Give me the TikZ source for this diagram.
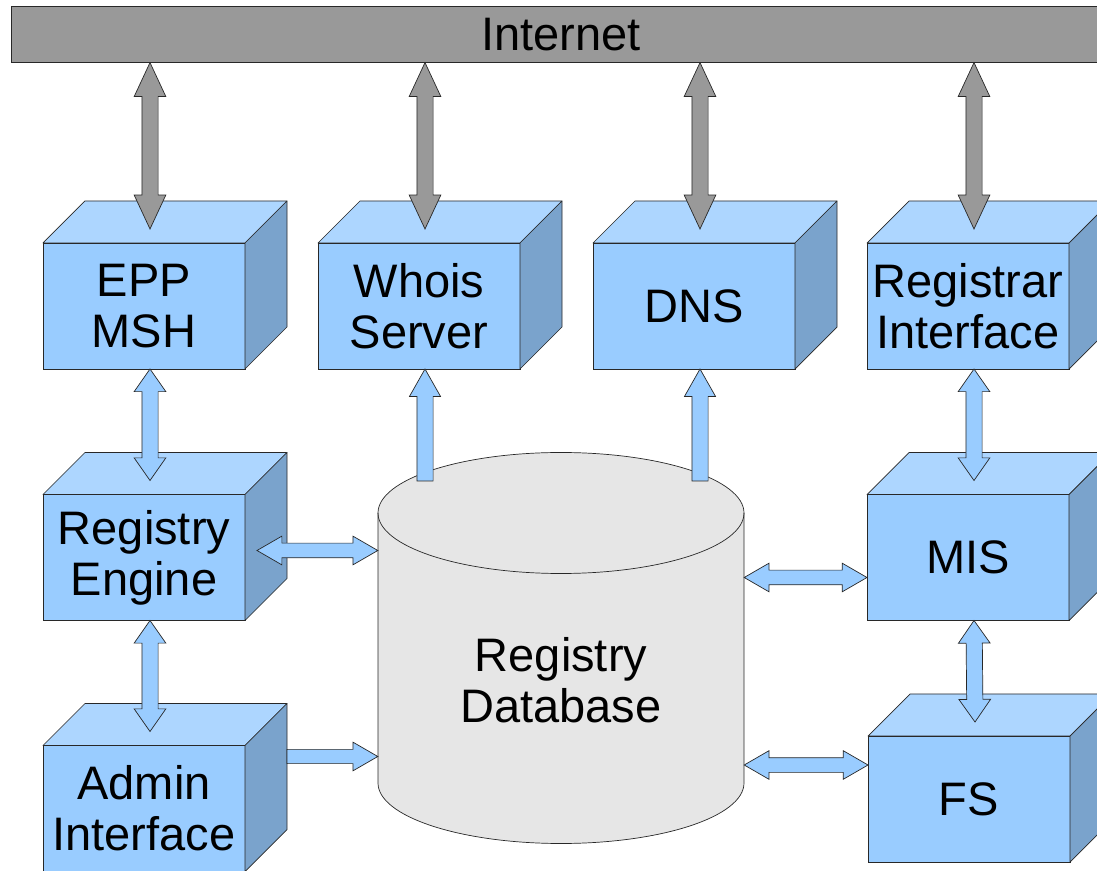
\documentclass[tikz,border=0pt]{standalone}
\usepackage{fontspec}
\setmainfont{Liberation Sans}
\usetikzlibrary{calc, shapes.arrows}

\definecolor{boxfront}{RGB}{153,204,255}
\definecolor{boxtop}{RGB}{173,214,255}
\definecolor{boxside}{RGB}{122,163,204}
\definecolor{netgray}{RGB}{153,153,153}
\definecolor{dbgray}{RGB}{230,230,230}
\definecolor{edge}{RGB}{40,40,40}

\tikzset{
  cube/.style={draw=edge, fill=boxfront, line width=0.7pt, minimum width=202pt, minimum height=126pt,
    inner sep=0pt, outer sep=0pt, align=center, font=\fontsize{47}{51}\selectfont},
  topface/.style={draw=edge, fill=boxtop, line width=0.7pt, line join=round},
  sideface/.style={draw=edge, fill=boxside, line width=0.7pt, line join=round},
  pipe/.style={draw=edge, line width=0.7pt, inner sep=0pt, outer sep=0pt, minimum width=0pt},
  netlink/.style={pipe, double arrow, fill=netgray, inner ysep=7.75pt,
    double arrow head extend=7.75pt, double arrow tip angle=50},
  duplex/.style={pipe, double arrow, fill=boxfront, inner ysep=7.75pt,
    double arrow head extend=7.75pt, double arrow tip angle=70},
  sidelink/.style={pipe, double arrow, fill=boxfront, inner ysep=7pt,
    double arrow head extend=7pt, double arrow tip angle=60},
  feed/.style={pipe, single arrow, fill=boxfront, anchor=tail, inner ysep=7.75pt,
    single arrow head extend=7.5pt, single arrow tip angle=59},
  sidefeed/.style={pipe, single arrow, fill=boxfront, anchor=tail, inner ysep=6.75pt,
    single arrow head extend=7.25pt, single arrow tip angle=60},
}

% 粗箭头: 样式, 起点, 终点
\newcommand{\duplexlink}[3]{%
  \path let \p1 = (#2), \p2 = (#3), \n1 = {veclen(\x2-\x1, \y2-\y1)}, \n2 = {atan2(\y2-\y1, \x2-\x1)} in
    node[#1, minimum height=\n1, rotate=\n2] at ({(\x1+\x2)/2}, {(\y1+\y2)/2}) {};}
\newcommand{\feedlink}[3]{%
  \path let \p1 = (#2), \p2 = (#3), \n1 = {veclen(\x2-\x1, \y2-\y1)}, \n2 = {atan2(\y2-\y1, \x2-\x1)} in
    node[#1, minimum height=\n1, rotate=\n2] at (\p1) {};}

\begin{document}
\begin{tikzpicture}[x=1pt, y=1pt]
        \useasboundingbox (0,0) rectangle (1097,870);
        \clip (0,0) rectangle (1097,870);

        % 互联网
        \node[draw=edge, fill=netgray, line width=0.7pt, minimum width=1100pt, minimum height=55.5pt,
          inner sep=0pt, font=\fontsize{47}{51}\selectfont] (inet) at (561,835.5) {Internet};

        % 数据库圆柱
        \filldraw[draw=edge, fill=dbgray, line width=0.7pt] (378,357) -- (378,87)
          arc[start angle=180, end angle=360, x radius=183, y radius=60.5] -- (744,357)
          arc[start angle=0, end angle=180, x radius=183, y radius=60.5] -- cycle;
        \draw[edge, line width=0.7pt] (378,357) arc[start angle=180, end angle=360, x radius=183, y radius=60.5];
        \node[align=center, minimum width=366pt, inner sep=0pt, font=\fontsize{47}{51}\selectfont]
          (db) at (561,189.5) {Registry\\Database};

        % 各模块 (正面)
        \node[cube] (epp) at (144,564) {EPP\\MSH};
        \node[cube] (whois) at (419,564) {Whois\\Server};
        \node[cube] (dns) at (694,564) {DNS};
        \node[cube] (rif) at (968,564) {Registrar\\Interface};
        \node[cube] (engine) at (144,312.5) {Registry\\Engine};
        \node[cube] (mis) at (968,312.5) {MIS};
        \node[cube] (admin) at (144,61.5) {Admin\\Interface};
        \node[cube] (fs) at (969,71) {FS};

        % 顶面, 侧面, 接口点
        \foreach \b in {epp, whois, dns, rif, engine, mis, admin, fs} {
            \filldraw[topface] (\b.north west) -- ++(42,42) -- ++(202,0) -- (\b.north east) -- cycle;
            \filldraw[sideface] (\b.north east) -- ++(42,42) -- ++(0,-126) -- (\b.south east) -- cycle;
            \coordinate (\b-in) at ([xshift=6pt, yshift=14pt]\b.north);
            \coordinate (\b-out) at ([xshift=6pt]\b.south);
        }

        % 互联网连接
        \foreach \b in {epp, whois, dns, rif} {
            \coordinate (\b-net) at (inet.south -| \b-in);
            \duplexlink{netlink}{\b-net}{\b-in}
        }

        % 纵向连接
        \duplexlink{duplex}{epp-out}{engine-in}
        \duplexlink{duplex}{engine-out}{admin-in}
        \duplexlink{duplex}{rif-out}{mis-in}
        \duplexlink{duplex}{mis-out}{fs-in}

        % 数据库 -> Whois, DNS
        \coordinate (dbtap) at (561,389);
        \coordinate (whois-tap) at (whois-out |- dbtap);
        \coordinate (dns-tap) at (dns-out |- dbtap);
        \feedlink{feed}{whois-tap}{whois-out}
        \feedlink{feed}{dns-tap}{dns-out}

        % 横向连接
        \coordinate (engdb) at ([xshift=12pt, yshift=7pt]engine.east);
        \coordinate (dbengine) at (engdb -| db.west);
        \duplexlink{sidelink}{engdb}{dbengine}
        \coordinate (admdb) at ([xshift=42pt, yshift=-11pt]admin.north east);
        \coordinate (dbadmin) at (admdb -| db.west);
        \feedlink{sidefeed}{admdb}{dbadmin}
        \coordinate (misdb) at ([yshift=-20pt]mis.west);
        \coordinate (dbmis) at (misdb -| db.east);
        \duplexlink{sidelink}{dbmis}{misdb}
        \coordinate (fsdb) at ([yshift=34pt]fs.west);
        \coordinate (dbfs) at (fsdb -| db.east);
        \duplexlink{sidelink}{dbfs}{fsdb}
    \end{tikzpicture}
\end{document}
